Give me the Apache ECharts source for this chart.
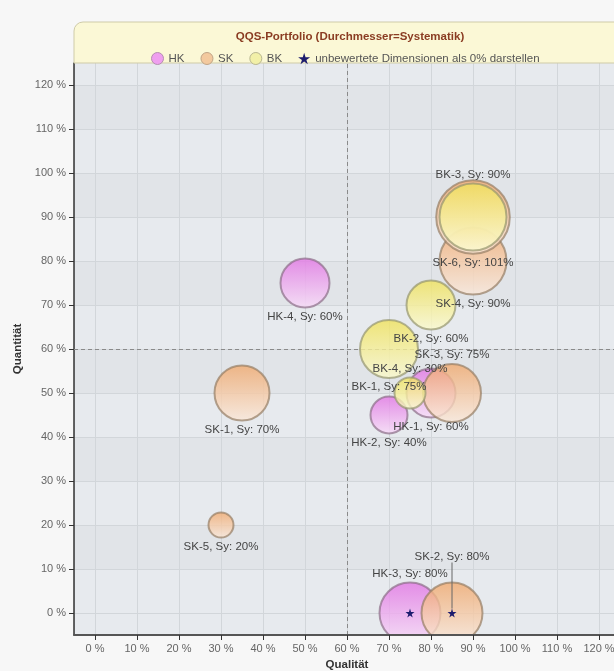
<!DOCTYPE html>
<html>
<head>
<meta charset="utf-8">
<script src="https://cdn.jsdelivr.net/npm/echarts@6/dist/echarts.min.js"></script>
<style>
  html, body { margin: 0; padding: 0; background: #f7f7f7; }
  #chart { width: 614px; height: 671px; }
</style>
</head>
<body>
<div id="chart"></div>
<script>
// ---- data ----
const hkNames = ['HK-1', 'HK-2', 'HK-3', 'HK-4'];
const hkQuali = [80, 70, 75, 50];
const hkQuanti = [50, 45, 0, 75];
const hkSys = [60, 40, 80, 60];

const skNames = ['SK-1', 'SK-2', 'SK-3', 'SK-4', 'SK-5', 'SK-6'];
const skQuali = [35, 85, 85, 90, 30, 90];
const skQuanti = [50, 0, 50, 80, 20, 90];
const skSys = [70, 80, 75, 90, 20, 101];

const bkNames = ['BK-1', 'BK-2', 'BK-3', 'BK-4'];
const bkQuali = [70, 80, 90, 75];
const bkQuanti = [60, 70, 90, 50];
const bkSys = [75, 60, 90, 30];

const unratedNames = ['HK-3', 'SK-2'];
const tickValues = [0, 10, 20, 30, 40, 50, 60, 70, 80, 90, 100, 110, 120];
const quadrantThreshold = 60;

const titleText = 'QQS-Portfolio (Durchmesser=Systematik)';
const starLegend = 'unbewertete Dimensionen als 0% darstellen';

// ---- styling helpers ----
const labelAbove = new Set(['BK-3', 'SK-3', 'BK-4', 'HK-3']);
const labelOnStar = new Set(['SK-2']);
const starPath = 'path://M50,0 L61,35 L98,35 L68,57 L79,91 L50,70 L21,91 L32,57 L2,35 L39,35 Z';
const FONT = '"Liberation Sans", Arial, sans-serif';

function grad(top, bottom) {
  return { type: 'linear', x: 0, y: 0, x2: 0, y2: 1,
    colorStops: [{ offset: 0, color: top }, { offset: 1, color: bottom }] };
}

const groups = [
  { name: 'HK', names: hkNames, xs: hkQuali, ys: hkQuanti, sys: hkSys,
    fill: grad('rgba(226,116,228,0.8)', 'rgba(248,220,248,0.8)'), border: 'rgba(140,110,135,0.7)', legend: '#ef9fef' },
  { name: 'SK', names: skNames, xs: skQuali, ys: skQuanti, sys: skSys,
    fill: grad('rgba(240,168,108,0.8)', 'rgba(250,232,218,0.8)'), border: 'rgba(150,125,100,0.7)', legend: '#f3c99e' },
  { name: 'BK', names: bkNames, xs: bkQuali, ys: bkQuanti, sys: bkSys,
    fill: grad('rgba(240,226,90,0.8)', 'rgba(251,250,208,0.8)'), border: 'rgba(150,150,110,0.7)', legend: '#f2f0a8' }
];

const labelStyle = {
  show: true, color: '#444', fontSize: 11.5, fontFamily: FONT, distance: 2,
  formatter: p => `${p.name}, Sy: ${p.value[2]}%`
};

const series = groups.map((g, gi) => ({
  name: g.name,
  type: 'scatter',
  z: 2,
  symbol: 'circle',
  symbolSize: v => 0.6 * v[2] + 13,
  itemStyle: { color: g.fill, opacity: 1, borderColor: g.border, borderWidth: 2 },
  label: labelStyle,
  emphasis: { disabled: true },
  data: g.names.map((n, i) => ({
    name: n,
    value: [g.xs[i], g.ys[i], g.sys[i]],
    label: { show: !labelOnStar.has(n), position: labelAbove.has(n) ? 'top' : 'bottom' }
  })),
  markLine: gi === 0 ? {
    silent: true, symbol: 'none', label: { show: false }, z: 1,
    lineStyle: { color: '#8a8a8a', type: [4, 3], width: 1 },
    emphasis: { disabled: true },
    data: [{ xAxis: quadrantThreshold }, { yAxis: quadrantThreshold }]
  } : undefined
}));

// star series: unrated dimensions shown at 0%
const starData = unratedNames.map(n => {
  for (const g of groups) {
    const i = g.names.indexOf(n);
    if (i >= 0) return { name: n, value: [g.xs[i], g.ys[i], g.sys[i]],
      label: { show: labelOnStar.has(n), position: 'top' } };
  }
});
series.push({
  name: starLegend,
  type: 'scatter',
  z: 5,
  symbol: starPath,
  symbolSize: 9,
  itemStyle: { color: '#1c1c6e', opacity: 1 },
  label: Object.assign({}, labelStyle),
  labelLine: { show: true, lineStyle: { color: '#666', width: 1 } },
  labelLayout: p => (labelOnStar.has(starData[p.dataIndex].name) ? { dy: -44 } : {}),
  emphasis: { disabled: true },
  data: starData
});

const range = { type: 'value', min: -5, max: 125, splitNumber: 13, minInterval: 10, maxInterval: 10 };
const tickStyle = { show: true, length: 5, lineStyle: { color: '#333' }, customValues: tickValues };
const labelAxis = { color: '#666', fontSize: 11, fontFamily: FONT, margin: 8,
  customValues: tickValues, formatter: v => v + ' %' };
const nameStyle = { color: '#333', fontWeight: 'bold', fontSize: 11.5, fontFamily: FONT };

const option = {
  backgroundColor: '#f7f7f7',
  animation: false,
  title: {
    text: titleText, left: 345, top: 26, textAlign: 'center',
    textStyle: { color: '#8a3c22', fontSize: 11.5, fontWeight: 'bold', fontFamily: FONT }
  },
  legend: {
    left: 146, top: 47, itemWidth: 12, itemHeight: 12, itemGap: 16,
    textStyle: { color: '#555', fontSize: 11.5, fontFamily: FONT },
    data: [
      { name: 'HK', icon: 'circle', itemStyle: { color: groups[0].legend, borderColor: '#b48fb0', borderWidth: 1 } },
      { name: 'SK', icon: 'circle', itemStyle: { color: groups[1].legend, borderColor: '#c0a486', borderWidth: 1 } },
      { name: 'BK', icon: 'circle', itemStyle: { color: groups[2].legend, borderColor: '#b8b690', borderWidth: 1 } },
      { name: starLegend, icon: starPath, itemStyle: { color: '#1c1c6e' } }
    ]
  },
  grid: {
    left: 74, top: 63, right: -6, bottom: 36, show: true,
    outerBoundsMode: 'none', containLabel: false,
    backgroundColor: '#e7eaee', borderWidth: 0
  },
  xAxis: [
    Object.assign({}, range, {
      z: 0,
      axisLine: { show: false }, axisTick: { show: false }, axisLabel: { show: false },
      splitLine: { show: true, lineStyle: { color: '#d2d6da', width: 1 } }
    }),
    Object.assign({}, range, {
      z: 100, position: 'bottom',
      name: 'Qualität', nameLocation: 'middle', nameGap: 22, nameTextStyle: nameStyle,
      axisLine: { show: true, onZero: false, lineStyle: { color: '#555', width: 2 } },
      axisTick: tickStyle, axisLabel: labelAxis,
      splitLine: { show: false }
    })
  ],
  yAxis: Object.assign({}, range, {
    z: 0,
    name: 'Quantität', nameLocation: 'middle', nameGap: 49, nameTextStyle: nameStyle,
    axisLine: { show: true, onZero: false, lineStyle: { color: '#333', width: 1.5 } },
    axisTick: tickStyle, axisLabel: labelAxis,
    splitLine: { show: true, lineStyle: { color: '#d2d6da', width: 1 } },
    splitArea: { show: true, areaStyle: { color: ['rgba(0,0,0,0)', 'rgba(0,0,0,0.025)'] } }
  }),
  graphic: [
    { type: 'rect', z: 1, shape: { x: 74, y: 22, width: 560, height: 41, r: [9, 0, 0, 0] },
      style: { fill: '#fbf8d6', stroke: '#cfcba8', lineWidth: 1 } },
    { type: 'rect', z: 50, shape: { x: 0, y: 636, width: 614, height: 40 },
      style: { fill: '#f7f7f7' } }
  ],
  series: series
};

const chart = echarts.init(document.getElementById('chart'), null, { renderer: 'canvas' });
chart.setOption(option);
</script>
</body>
</html>
